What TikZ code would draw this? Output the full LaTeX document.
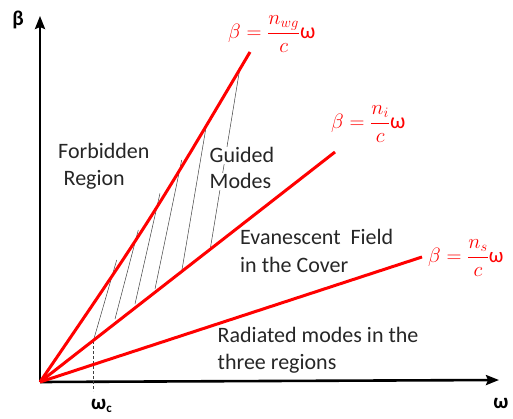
\documentclass[tikz,border=0pt]{standalone}
\usepackage{fontspec}
\setmainfont{Carlito}
\usetikzlibrary{arrows.meta}
\begin{document}
\begin{tikzpicture}[x=1pt,y=-1pt,
  redline/.style={draw=red, line width=3pt},
  axisline/.style={line width=2.6pt, -{Stealth[length=13pt,width=10pt,inset=2pt]}},
  hatchline/.style={draw=black!75, line width=0.5pt},
  lbl/.style={font=\fontsize{22}{26}\selectfont, inner sep=0pt, anchor=base west, text=black!85},
  eqlbl/.style={font=\fontsize{22}{26}\selectfont, text=red, inner sep=0pt, anchor=west},
  axlbl/.style={font=\fontsize{21}{25}\selectfont\bfseries, inner sep=0pt}]
\useasboundingbox (0,0) rectangle (513,419);
% key points
\coordinate (O) at (40,382);
\coordinate (Ytop) at (40,16);
\coordinate (Xend) at (499,380);
\coordinate (A) at (250,52);
\coordinate (B) at (335,152);
\coordinate (C) at (422,257);
% hatch end points
\coordinate (h1a) at (116.7,260);   \coordinate (h1b) at (93.3,341);
\coordinate (h2a) at (138.3,230);   \coordinate (h2b) at (115,319);
\coordinate (h3a) at (160,193.3);   \coordinate (h3b) at (135,304);
\coordinate (h4a) at (181.7,160);   \coordinate (h4b) at (155,289);
\coordinate (h5a) at (206.7,123.3); \coordinate (h5b) at (181.7,271.5);
\coordinate (h6a) at (239.3,71.7);  \coordinate (h6b) at (210.5,247.5);
\coordinate (wc) at (93.3,391);
% axes
\draw[axisline] (O) -- (Ytop);
\draw[axisline] (O) -- (Xend);
% hatching
\foreach \i in {1,...,6} {\draw[hatchline] (h\i a) -- (h\i b);}
\draw[hatchline, dashed, dash pattern=on 3pt off 2pt] (h1b) -- (wc);
% red lines
\draw[redline] (O) .. controls (150,221) .. (A);
\draw[redline] (O) -- (B);
\draw[redline] (O) -- (C);
% labels
\node[lbl] (forb) at (58,159) {Forbidden};
\node[lbl] (regn) at (63.5,186) {Region};
\node[lbl, fill=white, inner sep=1pt] (guid) at (208.5,163) {Guided};
\node[lbl, fill=white, inner sep=1pt] (mods) at (208.5,189) {Modes};
\node[lbl] (evan) at (240,245) {Evanescent~ Field};
\node[lbl] (covr) at (240,272) {in the Cover};
\node[lbl] (radi) at (217.5,342) {Radiated modes in the};
\node[lbl] (thre) at (217.5,369) {three regions};
% equations
\node[eqlbl] (eqa) at (228,34) {$\beta = \displaystyle\frac{n_{wg}}{c}$ω};
\node[eqlbl] (eqb) at (331,124) {$\beta = \displaystyle\frac{n_{i}}{c}$ω};
\node[eqlbl, font=\fontsize{21}{25}\selectfont] (eqc) at (428,258) {$\beta = \displaystyle\frac{n_{s}}{c}$ω};
% axis labels
\node[axlbl] (blbl) at (18,20) {β};
\node[axlbl, anchor=base] (wlbl) at (501,408) {ω};
\node[axlbl, anchor=base west] (wclbl) at (91,409) {ω\raisebox{-0.35ex}{\fontsize{13}{13}\selectfont\bfseries c}};
\end{tikzpicture}
\end{document}
